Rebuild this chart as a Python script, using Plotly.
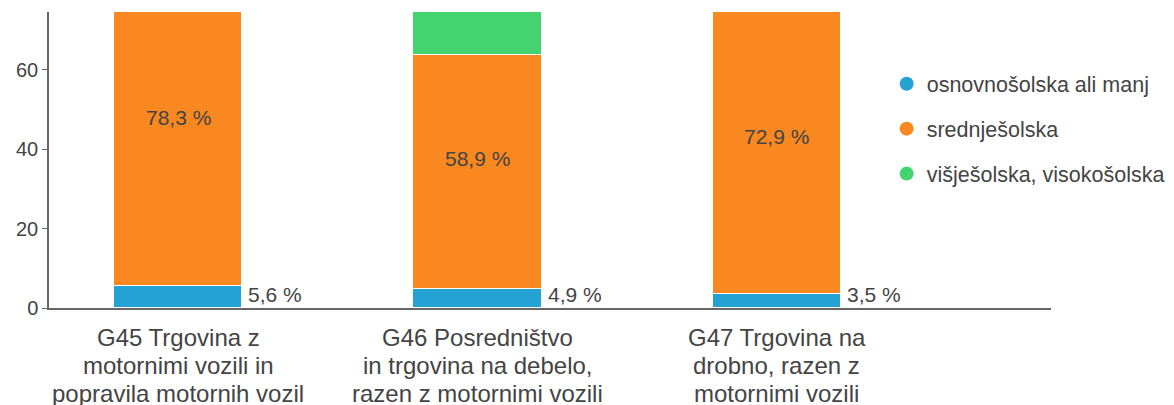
import plotly.graph_objects as go

categories = ["G45", "G46", "G47"]
category_lines = [
    ["G45 Trgovina z", "motornimi vozili in", "popravila motornih vozil"],
    ["G46 Posredništvo", "in trgovina na debelo,", "razen z motornimi vozili"],
    ["G47 Trgovina na", "drobno, razen z", "motornimi vozili"],
]
series_names = ["osnovnošolska ali manj", "srednješolska", "višješolska, visokošolska"]
osnovna = [5.6, 4.9, 3.5]
srednja = [78.3, 58.9, 72.9]
visja = [16.1, 36.2, 23.6]
colors = ["#25a2d4", "#f8881f", "#43d470"]
y_ticks = [0, 20, 40, 60]

FONT = "Liberation Sans, Arial, sans-serif"
TXT = "#444444"
x_idx = list(range(len(categories)))
BAR_W = 0.43

def fmt(v):
    return f"{v:.1f}".replace(".", ",") + " %"

fig = go.Figure()
for name, vals, col in zip(series_names, [osnovna, srednja, visja], colors):
    fig.add_trace(go.Bar(
        x=x_idx, y=vals, name=name, width=BAR_W,
        marker=dict(color=col, line=dict(color="white", width=1.5)),
        showlegend=False, hoverinfo="skip",
    ))
# legend entries with circle markers
for i, (name, col) in enumerate(zip(series_names, colors)):
    fig.add_trace(go.Scatter(
        x=[None], y=[None], mode="markers", name=name,
        marker=dict(color=col, size=14, symbol="circle"),
        legendgroup=f"g{i}", showlegend=True,
    ))

annotations = []
for i in x_idx:
    annotations.append(dict(
        x=i + BAR_W / 2, y=0, xref="x", yref="y",
        text=fmt(osnovna[i]), showarrow=False, xanchor="left", yanchor="bottom",
        xshift=4, font=dict(family=FONT, size=21, color=TXT),
    ))
    annotations.append(dict(
        x=i, y=osnovna[i] + srednja[i] / 2, xref="x", yref="y",
        text=fmt(srednja[i]), showarrow=False, xanchor="center", yanchor="middle",
        yshift=13, font=dict(family=FONT, size=21, color=TXT),
    ))
    for k, line in enumerate(category_lines[i]):
        annotations.append(dict(
            x=i, y=0, xref="x", yref="paper", text=line, showarrow=False,
            xanchor="center", yanchor="middle", yshift=-29 - 28 * k,
            font=dict(family=FONT, size=24, color=TXT),
        ))

fig.update_layout(
    barmode="stack",
    width=1174, height=405,
    margin=dict(l=41, r=131, t=4, b=104.5, autoexpand=False),
    plot_bgcolor="white", paper_bgcolor="white",
    font=dict(family=FONT, size=20, color=TXT),
    bargap=0,
    xaxis=dict(
        range=[-0.431, 2.915], showticklabels=False, ticks="",
        showgrid=False, zeroline=False, showline=True,
        linecolor="#666666", linewidth=1.5,
    ),
    yaxis=dict(
        range=[0, 74.6], tickvals=y_ticks, ticks="outside", ticklen=5,
        tickcolor="#666666", tickwidth=1, showgrid=False, zeroline=False,
        showline=True, linecolor="#666666", linewidth=1.5,
        tickfont=dict(family=FONT, size=20, color=TXT),
    ),
    legend=dict(
        x=0.836, xanchor="left", y=0.827, yanchor="top",
        font=dict(family=FONT, size=21.5, color=TXT),
        tracegroupgap=14, bgcolor="rgba(0,0,0,0)",
    ),
    annotations=annotations,
    showlegend=True,
)

fig.write_html("out.html")
